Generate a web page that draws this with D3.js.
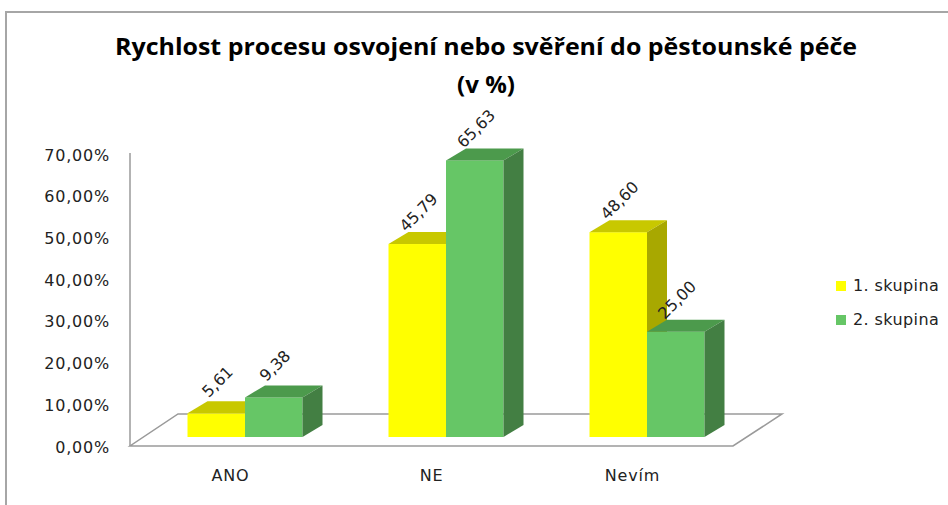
<!DOCTYPE html>
<html>
<head>
<meta charset="utf-8">
<script src="https://cdn.jsdelivr.net/npm/d3@7"></script>
<style>
  body { margin: 0; background: #fff; }
  .axis text { font-family: "DejaVu Sans", Verdana, sans-serif; fill: #222; letter-spacing: 0.8px; }
  .chart-title { font-family: "Open Sans", "Liberation Sans", sans-serif; font-weight: bold; font-size: 24px; fill: #000; }
  .bar-label { font-family: "DejaVu Sans", Verdana, sans-serif; font-size: 16px; fill: #222; }
  .legend text { font-family: "DejaVu Sans", Verdana, sans-serif; font-size: 16px; fill: #222; letter-spacing: 0.4px; }
</style>
</head>
<body>
<div id="chart"></div>
<script>
var categories = ["ANO", "NE", "Nevím"];
var seriesNames = ["1. skupina", "2. skupina"];
var group1 = [5.61, 45.79, 48.60];
var group2 = [9.38, 65.63, 25.00];
var yTicks = [0, 10, 20, 30, 40, 50, 60, 70];

var width = 948, height = 505;

// colours for each series: front, top, side
var faceColors = [
  {front: "#ffff00", top: "#c8c800", side: "#a8a800"},
  {front: "#66c666", top: "#4c9a4c", side: "#437f43"}
];

var svg = d3.select("#chart").append("svg")
    .attr("width", width)
    .attr("height", height);

// outer frame
svg.append("rect")
    .attr("x", 6).attr("y", 12)
    .attr("width", 980).attr("height", 520)
    .attr("fill", "#fff")
    .attr("stroke", "#a6a6a6")
    .attr("stroke-width", 2);

// title
svg.append("text")
    .attr("class", "chart-title")
    .attr("x", 486).attr("y", 55)
    .attr("text-anchor", "middle")
    .attr("textLength", 742)
    .attr("lengthAdjust", "spacingAndGlyphs")
    .text("Rychlost procesu osvojení nebo svěření do pěstounské péče");
svg.append("text")
    .attr("class", "chart-title")
    .attr("x", 486).attr("y", 93)
    .attr("text-anchor", "middle")
    .text("(v %)");

var plotLeft = 130, plotRight = 733;
var floorFront = 446;
var floorDx = 48, floorDy = -32;

var x = d3.scaleBand()
    .domain(categories)
    .range([plotLeft, plotRight]);

var x1 = d3.scaleBand()
    .domain(seriesNames)
    .range([0, 115]);

// front plane scale (axis labels)
var yAxisScale = d3.scaleLinear()
    .domain([0, 70])
    .range([447, 155]);

// bar height scale at the depth where bars stand
var hScale = d3.scaleLinear()
    .domain([0, 70])
    .range([0, 295]);

var barBase = 437;     // bars stand a bit into the floor
var barShift = 14.5;   // matching x shift for that depth
var depthDx = 20, depthDy = -12;

// floor
var floorPts = [
  [plotLeft, floorFront],
  [plotRight, floorFront],
  [plotRight + floorDx + 1, floorFront + floorDy],
  [plotLeft + floorDx, floorFront + floorDy]
];
svg.append("polygon")
    .attr("points", floorPts.map(function(p) { return p.join(","); }).join(" "))
    .attr("fill", "#fff")
    .attr("stroke", "#9a9a9a")
    .attr("stroke-width", 1.5);

// y axis
var yAxis = d3.axisLeft(yAxisScale)
    .tickValues(yTicks)
    .tickSize(0)
    .tickPadding(20)
    .tickFormat(function(d) { return d3.format(".2f")(d).replace(".", ",") + "%"; });

var yG = svg.append("g")
    .attr("class", "y axis")
    .attr("transform", "translate(" + plotLeft + ",0)")
    .call(yAxis);
yG.select(".domain").remove();
yG.selectAll("text").style("font-size", "16px");

svg.append("line")
    .attr("x1", plotLeft).attr("x2", plotLeft)
    .attr("y1", 153).attr("y2", floorFront)
    .attr("stroke", "#9a9a9a")
    .attr("stroke-width", 1.5);

// x axis
var xAxis = d3.axisBottom(x)
    .tickSize(0)
    .tickPadding(24);
var xG = svg.append("g")
    .attr("class", "x axis")
    .attr("transform", "translate(0," + floorFront + ")")
    .call(xAxis);
xG.select(".domain").remove();
xG.selectAll("text").style("font-size", "16px");

// build bar data
var bars = [];
categories.forEach(function(c, ci) {
  [group1, group2].forEach(function(vals, si) {
    bars.push({cat: c, series: seriesNames[si], si: si, value: vals[ci]});
  });
});

function barGeom(d) {
  var left = x(d.cat) + (x.bandwidth() - 115) / 2 + barShift + x1(d.series);
  var w = x1.bandwidth();
  var top = barBase - hScale(d.value);
  return {left: left, right: left + w, top: top, w: w};
}

var barG = svg.append("g").attr("class", "bars");

bars.forEach(function(d) {
  var g = barG.append("g");
  var b = barGeom(d);
  var col = faceColors[d.si];
  // front face
  g.append("rect")
      .attr("x", b.left).attr("y", b.top)
      .attr("width", b.w).attr("height", barBase - b.top)
      .attr("fill", col.front);
  // top face
  g.append("polygon")
      .attr("points", [
        [b.left, b.top],
        [b.right, b.top],
        [b.right + depthDx, b.top + depthDy],
        [b.left + depthDx, b.top + depthDy]
      ].map(function(p) { return p.join(","); }).join(" "))
      .attr("fill", col.top);
  // side face
  g.append("polygon")
      .attr("points", [
        [b.right, b.top],
        [b.right + depthDx, b.top + depthDy],
        [b.right + depthDx, barBase + depthDy],
        [b.right, barBase]
      ].map(function(p) { return p.join(","); }).join(" "))
      .attr("fill", col.side);
});

// value labels
svg.append("g").selectAll("text")
    .data(bars)
    .enter().append("text")
    .attr("class", "bar-label")
    .attr("text-anchor", "middle")
    .attr("dominant-baseline", "middle")
    .attr("transform", function(d) {
      var b = barGeom(d);
      return "translate(" + (b.left + b.w / 2 + 2) + "," + (b.top - 31) + ") rotate(-45)";
    })
    .text(function(d) { return d3.format(".2f")(d.value).replace(".", ","); });

// legend
var legend = svg.append("g")
    .attr("class", "legend")
    .attr("transform", "translate(836,281)");

var items = legend.selectAll("g")
    .data(seriesNames)
    .enter().append("g")
    .attr("transform", function(d, i) { return "translate(0," + (i * 34) + ")"; });

items.append("rect")
    .attr("width", 10).attr("height", 10)
    .attr("fill", function(d, i) { return faceColors[i].front; });

items.append("text")
    .attr("x", 17).attr("y", 5)
    .attr("dominant-baseline", "middle")
    .text(function(d) { return d; });
</script>
</body>
</html>
